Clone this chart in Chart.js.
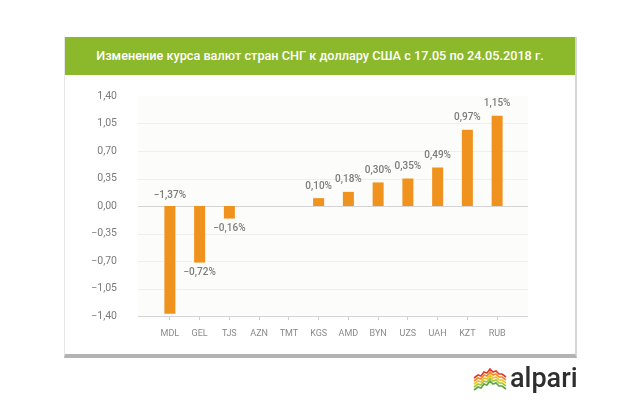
<!DOCTYPE html>
<html>
<head>
<meta charset="utf-8">
<script src="https://cdn.jsdelivr.net/npm/chart.js@4"></script>
<style>
  html, body { margin: 0; padding: 0; background: #fff; }
  body { width: 640px; height: 409px; position: relative; overflow: hidden; font-family: Roboto, sans-serif; }
  #card { position: absolute; left: 64px; top: 37px; width: 510px; height: 317px; background: #fff;
          border-left: 1px solid #e6e6e6; border-right: 2px solid #d6d6d6; border-bottom: 4px solid #b3b3b3; }
  #head { position: absolute; left: 0; top: 0; right: 0; height: 38px; background: #8cb82b; color: #fff;
          font: 500 12.7px Roboto, sans-serif; text-align: center; line-height: 38px; }
  #wrap { position: absolute; left: 0; top: 0; width: 640px; height: 409px; }
  #logo { position: absolute; left: 472px; top: 364px; width: 120px; height: 30px; }
  #logo svg { position: absolute; left: 0; top: 2px; }
  #logo span { position: absolute; left: 38px; top: -1px; font: 500 27px Roboto, sans-serif; color: #2e2e2e; line-height: 30px; }
</style>
</head>
<body>
<div id="card"><div id="head">Изменение курса валют стран СНГ к доллару США с 17.05 по 24.05.2018 г.</div></div>
<div id="wrap"><canvas id="chart" width="640" height="409"></canvas></div>
<div id="logo">
  <svg width="36" height="26" viewBox="0 0 36 26">
    <polyline points="2,12 6,9 9,10 12,6 15,7 18,3 21,6 24,5 27,8 30,8 34,11" fill="none" stroke="#e03c2a" stroke-width="1.6"/>
    <polyline points="2,15 6,12 9,13 12,9 15,10 18,6 21,9 24,8 27,11 30,11 34,14" fill="none" stroke="#f08a24" stroke-width="1.6"/>
    <polyline points="2,18 6,15 9,16 12,12 15,13 18,9 21,12 24,11 27,14 30,14 34,17" fill="none" stroke="#f4c21f" stroke-width="1.6"/>
    <polyline points="2,21 6,18 9,19 12,15 15,16 18,12 21,15 24,14 27,17 30,17 34,20" fill="none" stroke="#a5c93a" stroke-width="1.6"/>
    <polyline points="2,24 6,21 9,22 12,18 15,19 18,15 21,18 24,17 27,20 30,20 34,23" fill="none" stroke="#5aa83c" stroke-width="1.6"/>
  </svg>
  <span>alpari</span>
</div>
<script>
// валюты и изменение курса, %
const currencies = ['MDL', 'GEL', 'TJS', 'AZN', 'TMT', 'KGS', 'AMD', 'BYN', 'UZS', 'UAH', 'KZT', 'RUB'];
const changes = [-1.37, -0.72, -0.16, 0, 0, 0.10, 0.18, 0.30, 0.35, 0.49, 0.97, 1.15];
const yTicks = [-1.40, -1.05, -0.70, -0.35, 0, 0.35, 0.70, 1.05, 1.40];

function fmt(v) {
    const s = Math.abs(v).toFixed(2).replace('.', ',');
    return (v < 0 ? '\u2212' : '') + s;
}

// фон и горизонтальная сетка чуть шире области графика
const gridPlugin = {
    id: 'gridExt',
    beforeDatasetsDraw(chart) {
        const { ctx, chartArea, scales } = chart;
        const l = chartArea.left - 17, r = chartArea.right + 16;
        ctx.save();
        ctx.fillStyle = '#fcfcfa';
        ctx.fillRect(l, chartArea.top, r - l, chartArea.bottom - chartArea.top);
        yTicks.forEach(t => {
            const y = Math.round(scales.y.getPixelForValue(t)) + 0.5;
            if (t === 1.40) return;
            ctx.strokeStyle = (t === 0 || t === -1.40) ? '#d4d4d4' : '#efefec';
            ctx.lineWidth = 1;
            ctx.beginPath();
            ctx.moveTo(l, y);
            ctx.lineTo(r, y);
            ctx.stroke();
        });
        ctx.restore();
    }
};

// подписи значений над/под столбцами
const labelPlugin = {
    id: 'valueLabels',
    afterDatasetsDraw(chart) {
        const { ctx, scales } = chart;
        const meta = chart.getDatasetMeta(0);
        const zero = scales.y.getPixelForValue(0);
        ctx.save();
        ctx.font = '500 10px Roboto, sans-serif';
        ctx.fillStyle = '#7c7c7c';
        ctx.textAlign = 'center';
        ctx.textBaseline = 'middle';
        meta.data.forEach((bar, i) => {
            const v = changes[i];
            if (v === 0) return;
            let y;
            if (v > 0) y = bar.y - 12;
            else if (bar.y + 16 > chart.chartArea.bottom) y = zero - 11;
            else y = bar.y + 10;
            ctx.fillText(fmt(v) + '%', bar.x, y);
        });
        ctx.restore();
    }
};

const ctx = document.getElementById('chart').getContext('2d');
new Chart(ctx, {
    type: 'bar',
    data: {
        labels: currencies,
        datasets: [{
            data: changes,
            backgroundColor: '#f0931e',
            barPercentage: 0.37,
            categoryPercentage: 1
        }]
    },
    options: {
        responsive: false,
        animation: false,
        layout: { padding: { left: 0, top: 96, right: 128, bottom: 63 } },
        plugins: { legend: { display: false }, tooltip: { enabled: false } },
        scales: {
            x: {
                grid: { display: true, drawOnChartArea: false, offset: false, tickLength: 4, color: '#cfcfcf' },
                border: { display: false },
                ticks: { color: '#8a8a8a', font: { family: 'Roboto', size: 9 }, padding: 8 },
                afterFit(s) { s.height = 30; }
            },
            y: {
                min: -1.40,
                max: 1.40,
                afterBuildTicks(s) { s.ticks = yTicks.map(v => ({ value: v })); },
                grid: { display: false },
                border: { display: false },
                ticks: { color: '#7a7a7a', font: { family: 'Roboto', size: 10.5 }, padding: 30, callback: v => fmt(v) },
                afterFit(s) { s.width = 155; }
            }
        }
    },
    plugins: [gridPlugin, labelPlugin]
});
</script>
</body>
</html>
